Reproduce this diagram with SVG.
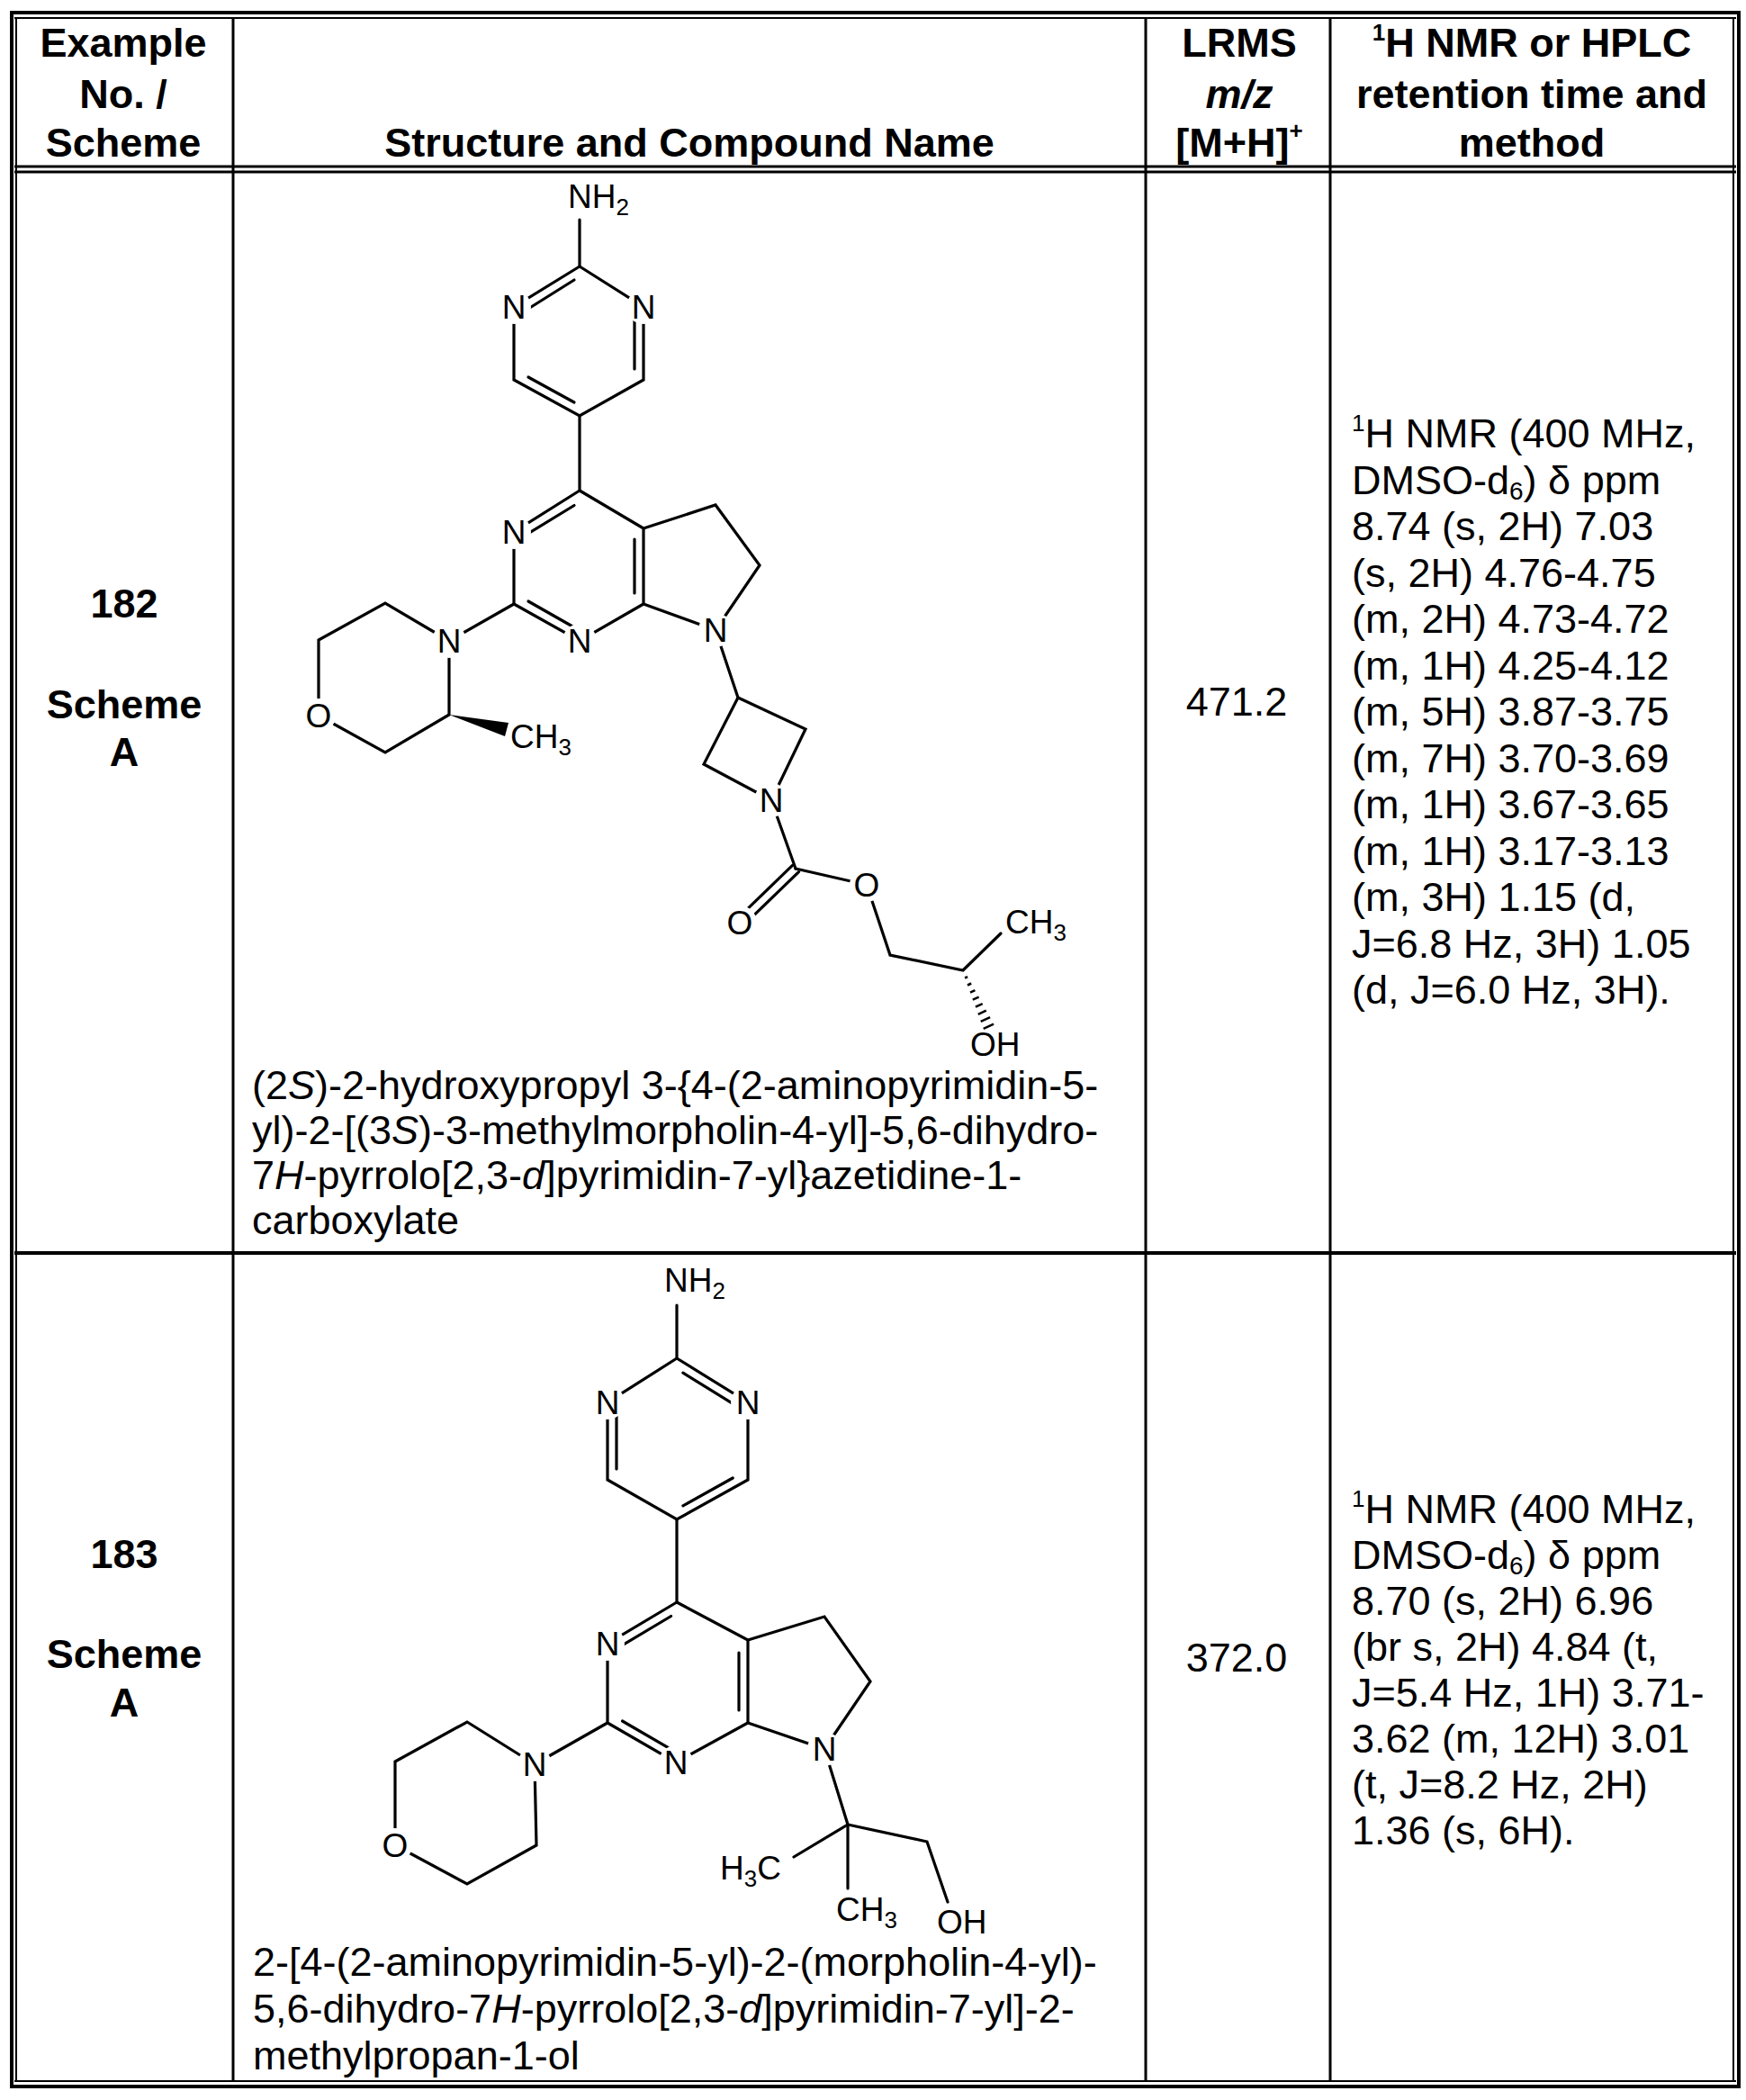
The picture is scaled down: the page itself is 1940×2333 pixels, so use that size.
<svg xmlns="http://www.w3.org/2000/svg" width="1940" height="2333" viewBox="0 0 1940 2333">
<style>
.t{font-family:"Liberation Sans",Arial,sans-serif;fill:#000}
.h{font-size:45px;font-weight:bold;text-anchor:middle}
.b{font-size:45px}
.a{font-size:37px}
.am{font-size:37px;text-anchor:middle}
.grid{stroke:#000;fill:none}
.bd{stroke:#000;stroke-width:3.2;fill:none;stroke-linecap:round}
.hs{stroke:#000;stroke-width:2.5}
.mask{fill:#fff}
</style>
<rect width="1940" height="2333" fill="#fff"/>
<g id="table">
<line class="grid" x1="11" y1="14" x2="1934" y2="14" stroke-width="4"/>
<line class="grid" x1="16" y1="20" x2="1929" y2="20" stroke-width="2"/>
<line class="grid" x1="16" y1="185" x2="1929" y2="185" stroke-width="3"/>
<line class="grid" x1="16" y1="191" x2="1929" y2="191" stroke-width="3"/>
<line class="grid" x1="16" y1="1392" x2="1929" y2="1392" stroke-width="4"/>
<line class="grid" x1="16" y1="2312" x2="1929" y2="2312" stroke-width="2"/>
<line class="grid" x1="11" y1="2318" x2="1934" y2="2318" stroke-width="4"/>
<line class="grid" x1="13" y1="12" x2="13" y2="2320" stroke-width="4"/>
<line class="grid" x1="18" y1="20" x2="18" y2="2312" stroke-width="2"/>
<line class="grid" x1="1926" y1="20" x2="1926" y2="2312" stroke-width="2"/>
<line class="grid" x1="1932" y1="12" x2="1932" y2="2320" stroke-width="4"/>
<line class="grid" x1="259" y1="20" x2="259" y2="2312" stroke-width="3"/>
<line class="grid" x1="1273" y1="20" x2="1273" y2="2312" stroke-width="3"/>
<line class="grid" x1="1478" y1="20" x2="1478" y2="2312" stroke-width="3"/>
</g>
<g id="header" class="t">
<text class="t h" x="137" y="63">Example</text>
<text class="t h" x="137" y="120">No. /</text>
<text class="t h" x="137" y="174">Scheme</text>
<text class="t h" x="766" y="174">Structure and Compound Name</text>
<text class="t h" x="1377" y="63">LRMS</text>
<text class="t h" x="1377" y="120" font-style="italic">m/z</text>
<text class="t h" x="1377" y="174">[M+H]<tspan font-size="26" dy="-20">+</tspan></text>
<text class="t h" x="1702" y="63"><tspan font-size="26" dy="-18">1</tspan><tspan dy="18">H NMR or HPLC</tspan></text>
<text class="t h" x="1702" y="120">retention time and</text>
<text class="t h" x="1702" y="174">method</text>
</g>
<g id="row182" class="t">
<text class="t h" x="138" y="686">182</text>
<text class="t h" x="138" y="798">Scheme</text>
<text class="t h" x="138" y="851">A</text>
<text class="t b" x="1374" y="795" text-anchor="middle">471.2</text>
<g class="t b">
<text x="1502" y="497"><tspan font-size="26" dy="-18">1</tspan><tspan dy="18">H NMR (400 MHz,</tspan></text>
<text x="1502" y="548.5">DMSO-d<tspan font-size="28" dy="6">6</tspan><tspan dy="-6">) δ ppm</tspan></text>
<text x="1502" y="600">8.74 (s, 2H) 7.03</text>
<text x="1502" y="651.5">(s, 2H) 4.76-4.75</text>
<text x="1502" y="703">(m, 2H) 4.73-4.72</text>
<text x="1502" y="754.5">(m, 1H) 4.25-4.12</text>
<text x="1502" y="806">(m, 5H) 3.87-3.75</text>
<text x="1502" y="857.5">(m, 7H) 3.70-3.69</text>
<text x="1502" y="909">(m, 1H) 3.67-3.65</text>
<text x="1502" y="960.5">(m, 1H) 3.17-3.13</text>
<text x="1502" y="1012">(m, 3H) 1.15 (d,</text>
<text x="1502" y="1063.5">J=6.8 Hz, 3H) 1.05</text>
<text x="1502" y="1115">(d, J=6.0 Hz, 3H).</text>
</g>
<g class="t b">
<text x="280" y="1221">(2<tspan font-style="italic">S</tspan>)-2-hydroxypropyl 3-{4-(2-aminopyrimidin-5-</text>
<text x="280" y="1271">yl)-2-[(3<tspan font-style="italic">S</tspan>)-3-methylmorpholin-4-yl]-5,6-dihydro-</text>
<text x="280" y="1321">7<tspan font-style="italic">H</tspan>-pyrrolo[2,3-<tspan font-style="italic">d</tspan>]pyrimidin-7-yl}azetidine-1-</text>
<text x="280" y="1371">carboxylate</text>
</g>
</g>
<g id="mol182">
<g class="bd">
<line x1="644" y1="296" x2="644" y2="244"/>
<polyline points="644,296 571,341 571,422 644,462 715,422 715,341 644,296"/>
<line x1="638" y1="311" x2="587" y2="343"/>
<line x1="705" y1="353" x2="705" y2="410"/>
<line x1="587" y1="419" x2="638" y2="447"/>
<line x1="644" y1="462" x2="644" y2="545"/>
<polyline points="644,545 571,591 571,671 644,712 715,671 715,587 644,545"/>
<line x1="638" y1="561.5" x2="587" y2="592.6"/>
<line x1="705" y1="599" x2="705" y2="659"/>
<line x1="587" y1="668" x2="638" y2="697"/>
<polyline points="715,587 795,561 844,628 795,700 715,671"/>
<line x1="571" y1="671" x2="499" y2="712"/>
<polyline points="499,712 428,670 354,711 354,795 428,836 499,794 499,712"/>
<line x1="795" y1="700" x2="820" y2="775"/>
<polyline points="820,775 895,810 857,889 782,849 820,775"/>
<line x1="857" y1="889" x2="884" y2="965"/>
<line x1="880.5" y1="961.4" x2="818.5" y2="1021.4"/>
<line x1="887.5" y1="968.6" x2="825.5" y2="1028.6"/>
<polyline points="884,965 963,983 989,1061 1070,1078 1112,1037"/>
</g>
<polygon points="499,794 565,803 561,818" fill="#000"/>
<g class="hs">
<line x1="1072.1" y1="1086.5" x2="1075.1" y2="1085.1"/>
<line x1="1075.0" y1="1094.5" x2="1079.2" y2="1092.5"/>
<line x1="1078.0" y1="1102.6" x2="1083.4" y2="1100.1"/>
<line x1="1080.8" y1="1110.6" x2="1087.6" y2="1107.6"/>
<line x1="1083.9" y1="1118.7" x2="1091.7" y2="1115.1"/>
<line x1="1086.8" y1="1126.8" x2="1095.8" y2="1122.6"/>
<line x1="1089.7" y1="1134.9" x2="1100.1" y2="1130.1"/>
<line x1="1092.7" y1="1142.8" x2="1104.1" y2="1137.6"/>
</g>
<g class="mask">
<circle cx="571" cy="341" r="19"/><circle cx="715" cy="341" r="19"/>
<circle cx="571" cy="591" r="19"/><circle cx="644" cy="712" r="19"/>
<circle cx="795" cy="700" r="19"/><circle cx="499" cy="712" r="19"/>
<circle cx="857" cy="889" r="19"/><circle cx="354" cy="795" r="19"/>
<circle cx="822" cy="1025" r="19"/><circle cx="963" cy="983" r="19"/>
</g>
<g class="t am">
<text x="571" y="354">N</text><text x="715" y="354">N</text>
<text x="571" y="604">N</text><text x="644" y="725">N</text>
<text x="795" y="713">N</text><text x="499" y="725">N</text>
<text x="857" y="902">N</text><text x="354" y="808">O</text>
<text x="822" y="1038">O</text><text x="963" y="996">O</text>
</g>
<g class="t a">
<text x="631" y="231">NH<tspan font-size="26" dy="8">2</tspan></text>
<text x="567" y="831">CH<tspan font-size="26" dy="8">3</tspan></text>
<text x="1117" y="1037">CH<tspan font-size="26" dy="8">3</tspan></text>
<text x="1078" y="1173">OH</text>
</g>
</g>
<g id="row183" class="t">
<text class="t h" x="138" y="1742">183</text>
<text class="t h" x="138" y="1853">Scheme</text>
<text class="t h" x="138" y="1907">A</text>
<text class="t b" x="1374" y="1857" text-anchor="middle">372.0</text>
<g class="t b">
<text x="1502" y="1692"><tspan font-size="26" dy="-18">1</tspan><tspan dy="18">H NMR (400 MHz,</tspan></text>
<text x="1502" y="1743">DMSO-d<tspan font-size="28" dy="6">6</tspan><tspan dy="-6">) δ ppm</tspan></text>
<text x="1502" y="1794">8.70 (s, 2H) 6.96</text>
<text x="1502" y="1845">(br s, 2H) 4.84 (t,</text>
<text x="1502" y="1896">J=5.4 Hz, 1H) 3.71-</text>
<text x="1502" y="1947">3.62 (m, 12H) 3.01</text>
<text x="1502" y="1998">(t, J=8.2 Hz, 2H)</text>
<text x="1502" y="2049">1.36 (s, 6H).</text>
</g>
<g class="t b">
<text x="281" y="2195">2-[4-(2-aminopyrimidin-5-yl)-2-(morpholin-4-yl)-</text>
<text x="281" y="2247">5,6-dihydro-7<tspan font-style="italic">H</tspan>-pyrrolo[2,3-<tspan font-style="italic">d</tspan>]pyrimidin-7-yl]-2-</text>
<text x="281" y="2299">methylpropan-1-ol</text>
</g>
</g>
<g id="mol183">
<g class="bd">
<line x1="752" y1="1509" x2="752" y2="1450"/>
<polyline points="752,1509 675,1558 675,1644 752,1688 831,1644 831,1558 752,1509"/>
<line x1="758.9" y1="1525.1" x2="814.2" y2="1559.4"/>
<line x1="685" y1="1570" x2="685" y2="1632"/>
<line x1="758.9" y1="1672.8" x2="814.2" y2="1642"/>
<line x1="752" y1="1688" x2="752" y2="1780"/>
<polyline points="752,1780 675,1826 675,1914 751,1958 831,1914 831,1822 752,1780"/>
<line x1="745.6" y1="1795.5" x2="691.7" y2="1827.7"/>
<line x1="821" y1="1836" x2="821" y2="1900"/>
<line x1="691.5" y1="1912" x2="744.7" y2="1942.8"/>
<polyline points="831,1822 916,1796 967,1868 916,1943 831,1914"/>
<line x1="675" y1="1914" x2="594" y2="1960"/>
<polyline points="594,1960 519,1913 439,1957 439,2050 519,2093 596,2050 594,1960"/>
<line x1="916" y1="1943" x2="942" y2="2027"/>
<line x1="942" y1="2027" x2="882" y2="2063"/>
<line x1="942" y1="2027" x2="942" y2="2098"/>
<polyline points="942,2027 1030,2046 1053,2113"/>
</g>
<g class="mask">
<circle cx="675" cy="1558" r="19"/><circle cx="831" cy="1558" r="19"/>
<circle cx="675" cy="1826" r="19"/><circle cx="751" cy="1958" r="19"/>
<circle cx="916" cy="1943" r="19"/><circle cx="594" cy="1960" r="19"/>
<circle cx="439" cy="2050" r="19"/>
</g>
<g class="t am">
<text x="675" y="1571">N</text><text x="831" y="1571">N</text>
<text x="675" y="1839">N</text><text x="751" y="1971">N</text>
<text x="916" y="1956">N</text><text x="594" y="1973">N</text>
<text x="439" y="2063">O</text>
</g>
<g class="t a">
<text x="738" y="1435">NH<tspan font-size="26" dy="8">2</tspan></text>
<text x="800" y="2088">H<tspan font-size="26" dy="8">3</tspan><tspan dy="-8">C</tspan></text>
<text x="929" y="2134">CH<tspan font-size="26" dy="8">3</tspan></text>
<text x="1041" y="2148">OH</text>
</g>
</g>
</svg>
